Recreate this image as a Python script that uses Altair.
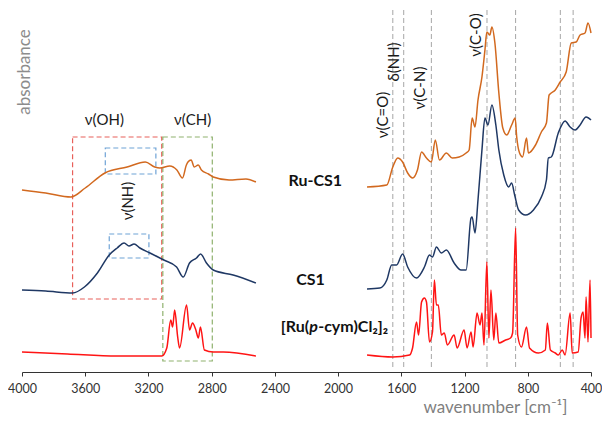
import altair as alt
import pandas as pd

# ---------------- data: wavenumber [cm-1] and absorbance (arbitrary, offset) -------------
# Ru-CS1, high-wavenumber part
ru_hi_wn = [4000, 3850, 3690, 3600, 3475, 3335, 3220, 3160, 3128, 3065, 3020, 2985, 2960,
            2950, 2930, 2910, 2885, 2865, 2820, 2790, 2690, 2583, 2520]
ru_hi_a = [182, 179, 175, 184, 199, 205, 210, 205, 204, 206, 202, 194, 207,
           210, 212, 205, 207, 202, 198, 195, 192, 193, 190]
# Ru-CS1, fingerprint part
ru_lo_wn = [1817, 1692, 1654, 1623, 1592, 1560, 1529, 1498, 1472, 1441, 1410, 1385, 1359,
            1315, 1278, 1234, 1190, 1171, 1152, 1134, 1115, 1090, 1071, 1059, 1040, 1027,
            1008, 983, 958, 933, 902, 880, 870, 852, 833, 808, 796, 751, 714, 682, 665,
            626, 595, 557, 525, 494, 469, 438, 419, 400]
ru_lo_a = [185, 187, 205, 214, 210, 199, 194, 202, 220, 214, 210, 232, 212,
           219, 214, 215, 219, 222, 254, 245, 272, 295, 322, 340, 337, 345,
           329, 279, 244, 237, 247, 254, 235, 219, 215, 234, 219, 227, 240, 249, 277,
           282, 290, 300, 329, 330, 337, 339, 349, 339]
# CS1
cs_hi_wn = [4000, 3850, 3680, 3605, 3523, 3448, 3398, 3354, 3323, 3291, 3254, 3190, 3103,
            3022, 2980, 2940, 2896, 2870, 2833, 2790, 2664, 2520]
cs_hi_a = [82, 81, 79, 85, 99, 117, 124, 129, 126, 128, 124, 119, 112,
           105, 95, 109, 114, 118, 109, 102, 97, 89]
cs_lo_wn = [1817, 1736, 1692, 1661, 1630, 1592, 1560, 1504, 1454, 1422, 1403, 1378, 1347,
            1315, 1266, 1222, 1190, 1159, 1152, 1134, 1115, 1090, 1071, 1052, 1027, 1002,
            983, 952, 921, 902, 883, 858, 814, 764, 714, 682, 670, 651, 607, 564, 532,
            500, 469, 431, 400]
cs_lo_a = [83, 84, 92, 107, 107, 118, 105, 94, 105, 117, 115, 125, 119,
           122, 109, 102, 102, 154, 155, 139, 172, 222, 254, 247, 267, 247,
           222, 197, 185, 189, 177, 162, 157, 162, 175, 192, 214, 215, 239, 251, 245,
           242, 247, 255, 252]
# [Ru(p-cym)Cl2]2
cym_hi_wn = [4000, 3712, 3398, 3116, 3084, 3059, 3047, 3034, 3015, 3003, 2959, 2940, 2921,
             2902, 2884, 2871, 2846, 2790, 2727, 2520]
cym_hi_a = [20, 18, 16, 16, 24, 52, 45, 62, 35, 24, 67, 42, 49,
            43, 34, 45, 22, 20, 20, 16]
cym_lo_wn = [1817, 1654, 1548, 1529, 1504, 1491, 1472, 1454, 1441, 1422, 1403, 1391, 1378,
             1366, 1347, 1328, 1309, 1266, 1247, 1203, 1184, 1159, 1146, 1121, 1102, 1090,
             1077, 1059, 1046, 1033, 1015, 1002, 983, 940, 909, 896, 877, 864, 840, 808,
             789, 733, 689, 676, 657, 626, 607, 582, 564, 532, 519, 481, 463, 450, 438,
             431, 419, 406, 400]
cym_lo_a = [17, 15, 17, 24, 50, 37, 70, 74, 70, 30, 40, 92, 67,
            67, 37, 39, 27, 37, 24, 42, 24, 40, 25, 59, 47, 59,
            27, 110, 34, 82, 32, 59, 29, 32, 34, 39, 144, 37, 25, 45,
            24, 19, 22, 49, 22, 19, 17, 22, 17, 59, 19, 20, 54, 60, 34,
            75, 30, 92, 34]

series_names = ["Ru-CS1", "CS1", "[Ru(p-cym)Cl2]2"]
series_colors = ["#D2691F", "#1F3864", "#FF1414"]

# band-assignment boxes (wavenumber range, absorbance range)
box_names = ["OH", "CH", "NH1", "NH2"]
box_wn1 = [3680, 3109, 3473, 3448]
box_wn2 = [3116, 2796, 3153, 3197]
box_a1 = [235, 235, 224, 138]
box_a2 = [73, 11, 198, 114]
box_colors = ["#E8605A", "#8FB26E", "#6FA3D6", "#6FA3D6"]

# dashed marker lines in the fingerprint region
marker_wn = [1654, 1585, 1410, 1058, 877, 594, 513]

# horizontal labels
hlab_text = ["ν(OH)", "ν(CH)"]
hlab_wn = [3479, 2921]
hlab_a = [252, 252]

# rotated band labels
vlab_text = ["ν(NH)", "ν(C=O)", "δ(NH)", "ν(C-N)", "ν(C-O)"]
vlab_wn = [3329, 1717, 1648, 1479, 1128]
vlab_a = [171, 257, 310, 284, 337]

# series labels
slab_text = ["Ru-CS1", "CS1"]
slab_wn = [2144, 2175]
slab_a = [191, 92]

tick_values = [4000, 3600, 3200, 2800, 2400, 2000, 1600, 1200, 800, 400]

# ---------------- build tables ----------------
rows = []
for name, parts in [
    ("Ru-CS1", [(ru_hi_wn, ru_hi_a), (ru_lo_wn, ru_lo_a)]),
    ("CS1", [(cs_hi_wn, cs_hi_a), (cs_lo_wn, cs_lo_a)]),
    ("[Ru(p-cym)Cl2]2", [(cym_hi_wn, cym_hi_a), (cym_lo_wn, cym_lo_a)]),
]:
    for i, (w, a) in enumerate(parts):
        for wi, ai in zip(w, a):
            rows.append({"wn": wi, "a": ai, "series": name, "part": f"{name}-{i}"})
spec = pd.DataFrame(rows)

boxes = pd.DataFrame({"box": box_names, "wn1": box_wn1, "wn2": box_wn2,
                      "a1": box_a1, "a2": box_a2})
markers = pd.DataFrame({"wn": marker_wn, "a1": [5] * len(marker_wn),
                        "a2": [362] * len(marker_wn)})
hlab = pd.DataFrame({"t": hlab_text, "wn": hlab_wn, "a": hlab_a})
vlab = pd.DataFrame({"t": vlab_text, "wn": vlab_wn, "a": vlab_a})
slab = pd.DataFrame({"t": slab_text, "wn": slab_wn, "a": slab_a})

FONT = "Lato, 'DejaVu Sans', sans-serif"

xscale = alt.Scale(domain=[400, 4000], reverse=True, nice=False, zero=False)
yscale = alt.Scale(domain=[0, 364], nice=False, zero=False)

X = lambda f="wn": alt.X(f"{f}:Q", scale=xscale)
Y = lambda f="a": alt.Y(f"{f}:Q", scale=yscale, axis=None)

lines = alt.Chart(spec).mark_line(strokeWidth=1.5, interpolate="monotone").encode(
    x=alt.X("wn:Q", scale=xscale,
            axis=alt.Axis(values=tick_values, format="d", grid=False,
                          title="wavenumber [cm⁻¹]", titleFont=FONT,
                          titleFontSize=17, titleFontWeight="normal",
                          titleColor="#7F7F7F", titleX=473, titleY=40,
                          titleAlign="center", titleBaseline="alphabetic",
                          labelFont=FONT, labelFontSize=12.5, labelColor="#333333",
                          labelPadding=6, tickSize=4, tickColor="#333333",
                          domainColor="#333333", labelFlush=False)),
    y=Y(),
    color=alt.Color("series:N", scale=alt.Scale(domain=series_names, range=series_colors),
                    legend=None),
    detail="part:N",
    order="wn:Q",
)

marker_rules = alt.Chart(markers).mark_rule(
    color="#A6A6A6", strokeWidth=1, strokeDash=[5, 3]
).encode(x=X(), y=Y("a1"), y2="a2:Q")

box_rects = alt.Chart(boxes).mark_rect(
    fillOpacity=0, strokeWidth=1.2, strokeDash=[5, 3]
).encode(
    x=X("wn1"), x2="wn2:Q", y=Y("a1"), y2="a2:Q",
    stroke=alt.Stroke("box:N", scale=alt.Scale(domain=box_names, range=box_colors),
                      legend=None),
)

hlabels = alt.Chart(hlab).mark_text(
    font=FONT, fontSize=15, color="#1a1a1a", align="center", baseline="middle"
).encode(x=X(), y=Y(), text="t:N")

vlabels = alt.Chart(vlab).mark_text(
    font=FONT, fontSize=15, color="#1a1a1a", align="center", baseline="middle", angle=270
).encode(x=X(), y=Y(), text="t:N")

slabels = alt.Chart(slab).mark_text(
    font=FONT, fontSize=16, fontWeight="bold", color="#111111",
    align="center", baseline="middle"
).encode(x=X(), y=Y(), text="t:N")

# complex label in three pieces so that the "p" can be italic
cx = pd.DataFrame({"wn": [2183], "a": [45]})
c1 = alt.Chart(cx).mark_text(font=FONT, fontSize=16, fontWeight="bold", color="#111111",
                             align="right", baseline="middle", text="[Ru(").encode(x=X(), y=Y())
c2 = alt.Chart(cx).mark_text(font=FONT, fontSize=16, fontWeight="bold", fontStyle="italic",
                             color="#111111", align="left", baseline="middle",
                             text="p").encode(x=X(), y=Y())
c3 = alt.Chart(cx).mark_text(font=FONT, fontSize=16, fontWeight="bold", color="#111111",
                             align="left", baseline="middle", dx=9,
                             text="-cym)Cl₂]₂").encode(x=X(), y=Y())

ylab = pd.DataFrame({"wn": [3981], "a": [300]})
yl = alt.Chart(ylab).mark_text(font=FONT, fontSize=17, color="#8C8C8C", angle=270,
                               align="center", baseline="middle",
                               text="absorbance").encode(x=X(), y=Y())

chart = alt.layer(
    marker_rules, box_rects, lines, hlabels, vlabels, slabels, c1, c2, c3, yl
).properties(
    width=569, height=364, autosize="none",
    padding={"left": 14, "top": 0, "right": 11, "bottom": 44},
).configure_view(stroke=None)

chart.save("out.html", embed_options={"renderer": "svg", "actions": False})
